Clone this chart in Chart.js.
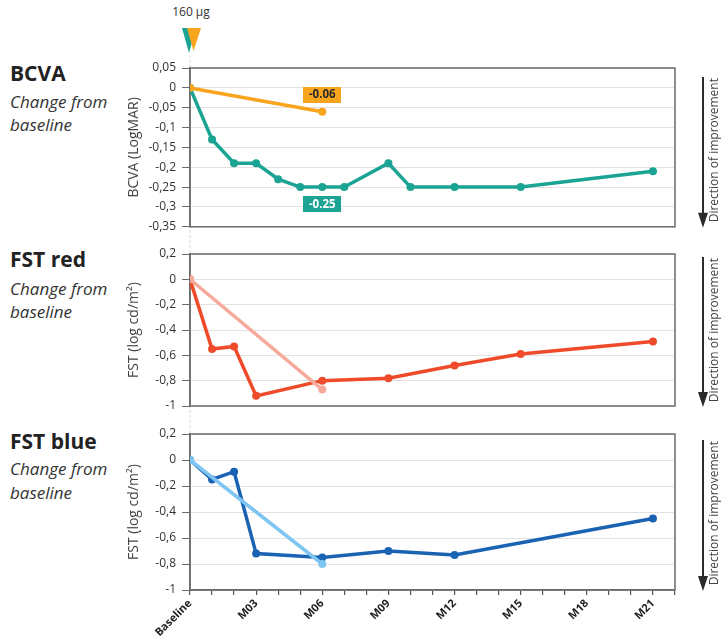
<!DOCTYPE html>
<html>
<head>
<meta charset="utf-8">
<script src="https://cdn.jsdelivr.net/npm/chart.js@4.4.1/dist/chart.umd.min.js"></script>
<style>
  html, body { margin: 0; padding: 0; background: #fff; }
  #wrap { position: relative; width: 724px; height: 642px; overflow: hidden; font-family: 'Open Sans', sans-serif; }
  #wrap canvas { position: absolute; left: 0; }
  .lbl { position: absolute; left: 10px; white-space: nowrap; line-height: 1; }
  .ttl { font-size: 21px; font-weight: 700; color: #222; }
  .sub { font-size: 17px; font-style: italic; color: #333; }
  #dose { position: absolute; left: 170px; top: 6px; width: 42px; text-align: center; font-size: 12px; color: #333; line-height: 1; }
</style>
</head>
<body>
<div id="wrap">
  <div id="dose">160 µg</div>

  <div class="lbl ttl" style="top:63px">BCVA</div>
  <div class="lbl sub" style="top:93px">Change from</div>
  <div class="lbl sub" style="top:116px">baseline</div>

  <div class="lbl ttl" style="top:249px">FST red</div>
  <div class="lbl sub" style="top:280px">Change from</div>
  <div class="lbl sub" style="top:303px">baseline</div>

  <div class="lbl ttl" style="top:431px">FST blue</div>
  <div class="lbl sub" style="top:460px">Change from</div>
  <div class="lbl sub" style="top:484px">baseline</div>

  <canvas id="cBcva" width="724" height="240" style="top:0"></canvas>
  <canvas id="cRed" width="724" height="180" style="top:240px"></canvas>
  <canvas id="cBlue" width="724" height="222" style="top:420px"></canvas>
</div>

<script>
// Visit months (x) and tick labels
const tickMonths = [0, 3, 6, 9, 12, 15, 18, 21];
const tickLabels = ['Baseline', 'M03', 'M06', 'M09', 'M12', 'M15', 'M18', 'M21'];

// BCVA change from baseline (LogMAR)
const bcvaLongMonths = [0, 1, 2, 3, 4, 5, 6, 7, 9, 10, 12, 15, 21];
const bcvaLong = [0, -0.13, -0.19, -0.19, -0.23, -0.25, -0.25, -0.25, -0.19, -0.25, -0.25, -0.25, -0.21];
const bcvaShortMonths = [0, 6];
const bcvaShort = [0, -0.06];

// FST red change from baseline (log cd/m²)
const redLongMonths = [0, 1, 2, 3, 6, 9, 12, 15, 21];
const redLong = [0, -0.55, -0.53, -0.92, -0.80, -0.78, -0.68, -0.59, -0.49];
const redShortMonths = [0, 6];
const redShort = [0, -0.87];

// FST blue change from baseline (log cd/m²)
const blueLongMonths = [0, 1, 2, 3, 6, 9, 12, 21];
const blueLong = [0, -0.15, -0.09, -0.72, -0.75, -0.70, -0.73, -0.45];
const blueShortMonths = [0, 6];
const blueShort = [0, -0.80];

const COL = {
  teal: '#1ba393', orange: '#f8a41c',
  red: '#ef4b2b', pink: '#f5aa9b',
  blue: '#1a62b2', sky: '#7fc5f2'
};

Chart.defaults.font.family = "'Open Sans', sans-serif";
Chart.defaults.color = '#333';

const pts = (xs, ys) => xs.map((x, i) => ({ x, y: ys[i] }));

function series(label, xs, ys, color) {
  return {
    label, data: pts(xs, ys),
    borderColor: color, backgroundColor: color,
    pointBackgroundColor: color, pointBorderColor: color,
    borderWidth: 3.5, pointRadius: 4, pointBorderWidth: 0,
    pointHoverRadius: 4, tension: 0
  };
}

function fmtTick(v) {
  const r = Math.round(v * 100) / 100;
  return r === 0 ? '0' : String(r).replace('.', ',');
}

// Frame, dashed baseline guide, value tags, and "direction of improvement" arrow
const decor = {
  id: 'decor',
  beforeDraw(chart, args, o) {
    const { ctx } = chart;
    const x0 = chart.scales.x.getPixelForValue(0);
    ctx.save();
    ctx.strokeStyle = '#e6e6e6';
    ctx.lineWidth = 1.5;
    ctx.setLineDash([3, 2]);
    ctx.beginPath();
    ctx.moveTo(x0, o.guideTop ?? 0);
    ctx.lineTo(x0, o.guideBottom ?? chart.height);
    ctx.stroke();
    ctx.restore();
  },
  beforeDatasetsDraw(chart) {
    const { ctx, chartArea: a } = chart;
    ctx.save();
    ctx.strokeStyle = '#6b6b6b';
    ctx.lineWidth = 1.5;
    ctx.strokeRect(a.left, a.top, a.right - a.left, a.bottom - a.top);
    ctx.restore();
  },
  afterDatasetsDraw(chart, args, o) {
    const { ctx } = chart;
    (o.tags || []).forEach(t => {
      const p = chart.data.datasets[t.dataset].data[t.index];
      const x = chart.scales.x.getPixelForValue(p.x);
      const y = chart.scales.y.getPixelForValue(p.y) + t.dy;
      const txt = p.y.toFixed(2);
      ctx.save();
      ctx.font = "700 11.5px 'Open Sans', sans-serif";
      const w = ctx.measureText(txt).width + 11;
      const h = 16;
      ctx.fillStyle = t.bg;
      ctx.fillRect(Math.round(x - w / 2), Math.round(y - h / 2), Math.round(w), h);
      ctx.fillStyle = t.color;
      ctx.textAlign = 'center';
      ctx.textBaseline = 'middle';
      ctx.fillText(txt, x, y + 0.5);
      ctx.restore();
    });
  },
  afterDraw(chart, args, o) {
    const { ctx, chartArea: a } = chart;
    const ax = 703;
    const top = a.top + (o.arrowTop ?? 6);
    const bot = a.bottom + 1;
    ctx.save();
    ctx.strokeStyle = '#2b2b2b';
    ctx.fillStyle = '#2b2b2b';
    ctx.lineWidth = 2;
    ctx.beginPath();
    ctx.moveTo(ax, top);
    ctx.lineTo(ax, bot - 12);
    ctx.stroke();
    ctx.beginPath();
    ctx.moveTo(ax - 5, bot - 15);
    ctx.lineTo(ax + 5, bot - 15);
    ctx.lineTo(ax, bot);
    ctx.closePath();
    ctx.fill();
    ctx.translate(715, top + 1);
    ctx.rotate(-Math.PI / 2);
    ctx.font = "12px 'Open Sans', sans-serif";
    ctx.fillStyle = '#444';
    ctx.textAlign = 'right';
    ctx.textBaseline = 'middle';
    ctx.fillText('Direction of improvement', 0, 0);
    ctx.restore();

    if (o.doseMarker) {
      const x0 = chart.scales.x.getPixelForValue(0);
      ctx.save();
      ctx.fillStyle = COL.teal;
      ctx.beginPath();
      ctx.moveTo(x0 - 8, 28); ctx.lineTo(x0 + 6, 28); ctx.lineTo(x0 - 1, 53); ctx.closePath();
      ctx.fill();
      ctx.fillStyle = COL.orange;
      ctx.beginPath();
      ctx.moveTo(x0 - 3, 28); ctx.lineTo(x0 + 11, 28); ctx.lineTo(x0 + 3.5, 51); ctx.closePath();
      ctx.fill();
      ctx.restore();
    }
  }
};

function makeChart(id, cfg) {
  const showX = !!cfg.showX;
  return new Chart(document.getElementById(id), {
    type: 'line',
    data: { datasets: cfg.datasets },
    plugins: [decor],
    options: {
      responsive: false,
      animation: false,
      devicePixelRatio: 1,
      layout: { padding: { left: 122, right: 49, top: cfg.padTop, bottom: cfg.padBottom } },
      plugins: {
        legend: { display: false },
        tooltip: { enabled: false },
        decor: cfg.decor
      },
      scales: {
        x: {
          type: 'linear',
          min: 0, max: 22,
          display: showX,
          grid: { drawOnChartArea: false, drawTicks: true, tickLength: 5, tickColor: '#555', lineWidth: 1.2 },
          border: { color: '#6b6b6b', width: 1.5 },
          ticks: {
            stepSize: 1, autoSkip: false,
            maxRotation: 45, minRotation: 45,
            padding: 2,
            color: '#1e1e1e',
            font: { size: 11, weight: '700' },
            callback: v => {
              const k = tickMonths.indexOf(v);
              return k >= 0 ? tickLabels[k] : '';
            }
          },
          afterFit: s => { if (showX) s.height = 52; }
        },
        y: {
          min: cfg.yMin, max: cfg.yMax,
          ticks: { stepSize: cfg.yStep, padding: 6, color: '#333', font: { size: 12 }, callback: fmtTick },
          grid: { color: '#e2e2e2', lineWidth: 1, tickColor: '#6b6b6b', tickLength: 8 },
          border: { color: '#6b6b6b', width: 1.5 },
          title: { display: true, text: cfg.yTitle, color: '#444', font: { size: 14 } },
          afterFit: s => { s.width = 68; }
        }
      }
    }
  });
}

makeChart('cBcva', {
  datasets: [
    series('160 µg (B)', bcvaShortMonths, bcvaShort, COL.orange),
    series('160 µg (A)', bcvaLongMonths, bcvaLong, COL.teal)
  ],
  yMin: -0.35, yMax: 0.05, yStep: 0.05,
  yTitle: 'BCVA (LogMAR)',
  padTop: 68, padBottom: 13,
  decor: {
    guideTop: 55,
    arrowTop: 9,
    doseMarker: true,
    tags: [
      { dataset: 0, index: 1, dy: -17, bg: COL.orange, color: '#2a2a2a' },
      { dataset: 1, index: 6, dy: 17, bg: COL.teal, color: '#fff' }
    ]
  }
});

makeChart('cRed', {
  datasets: [
    series('160 µg (B)', redShortMonths, redShort, COL.pink),
    series('160 µg (A)', redLongMonths, redLong, COL.red)
  ],
  yMin: -1, yMax: 0.2, yStep: 0.2,
  yTitle: 'FST (log cd/m²)',
  padTop: 14, padBottom: 14,
  decor: { arrowTop: 3 }
});

makeChart('cBlue', {
  datasets: [
    series('160 µg (B)', blueShortMonths, blueShort, COL.sky),
    series('160 µg (A)', blueLongMonths, blueLong, COL.blue)
  ],
  yMin: -1, yMax: 0.2, yStep: 0.2,
  yTitle: 'FST (log cd/m²)',
  padTop: 14, padBottom: 0,
  showX: true,
  decor: { arrowTop: 6, guideBottom: 170 }
});
</script>
</body>
</html>
